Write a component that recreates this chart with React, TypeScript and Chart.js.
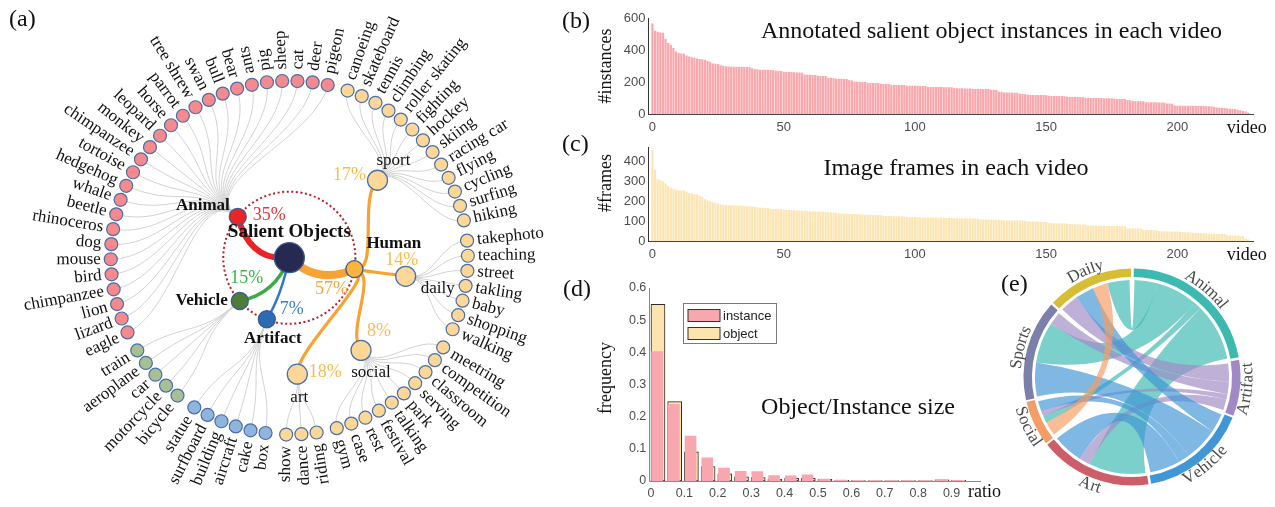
import React, { useEffect, useRef } from "react";
import { Chart, registerables } from "chart.js";
Chart.register(...registerables);

const SERIF = '"Liberation Serif", "Times New Roman", serif';
const SANS = '"Liberation Sans", Arial, sans-serif';
const DEG = Math.PI / 180;

// ---------------- (a) radial category tree ----------------
const topCategories = ["Animal", "Human", "Artifact", "Vehicle"];
const topShares = [35, 57, 7, 15];
const humanScenes = ["sport", "daily", "social", "art"];
const sceneShares = [17, 14, 8, 18];
const animalLeaves = ["eagle", "lizard", "lion", "chimpanzee", "bird", "mouse", "dog", "rhinoceros", "beetle", "whale", "hedgehog", "tortoise", "chimpanzee", "monkey", "leopard", "horse", "parrot", "tree shrew", "swan", "bull", "bear", "ants", "pig", "sheep", "cat", "deer", "pigeon"];
const sportLeaves = ["canoeing", "skateboard", "tennis", "climbing", "roller skating", "fighting", "hockey", "skiing", "racing car", "flying", "cycling", "surfing", "hiking"];
const dailyLeaves = ["takephoto", "teaching", "street", "takling", "baby", "shopping", "walking"];
const socialLeaves = ["meetring", "competition", "classroom", "serving", "park", "talking", "festival", "rest", "case", "gym"];
const artLeaves = ["riding", "dance", "show"];
const artifactLeaves = ["box", "cake", "aircraft", "building", "surfboard", "statue"];
const vehicleLeaves = ["bicycle", "motorcycle", "car", "aeroplane", "train"];
const leafGroups = [animalLeaves, sportLeaves, dailyLeaves, socialLeaves, artLeaves, artifactLeaves, vehicleLeaves];
const leafGroupOwners = ["Animal", "sport", "daily", "social", "art", "Artifact", "Vehicle"];

// ---------------- (b) instances per video ----------------
const videoTicks = [0, 50, 100, 150, 200];
const instanceTicks = [0, 200, 400, 600];
const instancesPerVideo = [
  565, 521, 514, 510, 508, 470, 443, 433, 412, 391,
  381, 378, 376, 366, 360, 355, 351, 347, 343, 342,
  339, 332, 326, 315, 314, 312, 305, 301, 299, 297,
  296, 296, 295, 295, 295, 294, 294, 293, 286, 282,
  280, 277, 277, 276, 276, 275, 275, 271, 270, 269,
  264, 263, 263, 262, 261, 259, 259, 258, 247, 246,
  245, 244, 244, 239, 238, 238, 237, 227, 226, 225,
  221, 220, 220, 219, 219, 213, 209, 202, 201, 201,
  200, 200, 195, 194, 194, 193, 193, 189, 188, 188,
  187, 183, 182, 182, 181, 181, 181, 177, 177, 176,
  176, 176, 175, 175, 175, 169, 169, 168, 168, 168,
  168, 167, 167, 167, 167, 162, 161, 161, 161, 160,
  160, 160, 158, 157, 157, 157, 156, 156, 156, 152,
  151, 150, 141, 139, 135, 134, 134, 134, 133, 133,
  126, 125, 124, 120, 119, 119, 119, 118, 118, 118,
  117, 114, 113, 113, 113, 112, 112, 111, 108, 107,
  107, 107, 106, 106, 105, 101, 101, 100, 100, 100,
  100, 100, 99, 99, 99, 99, 95, 94, 94, 93,
  93, 87, 86, 81, 80, 80, 79, 79, 74, 74,
  73, 73, 73, 72, 72, 71, 66, 65, 64, 53,
  52, 52, 52, 51, 51, 51, 50, 50, 50, 50,
  50, 49, 49, 49, 43, 41, 39, 38, 37, 34,
  33, 33, 32, 26, 24, 18, 16, 10,
];

// ---------------- (c) frames per video ----------------
const frameTicks = [0, 100, 200, 300, 400];
const framesPerVideo = [
  452, 357, 308, 304, 299, 289, 275, 266, 261, 258,
  254, 253, 252, 248, 239, 237, 234, 232, 226, 220,
  210, 204, 199, 194, 190, 187, 183, 181, 180, 179,
  178, 177, 177, 177, 176, 176, 175, 172, 172, 171,
  167, 166, 166, 165, 165, 161, 160, 160, 159, 159,
  156, 155, 155, 154, 154, 152, 152, 151, 151, 150,
  148, 147, 147, 147, 146, 146, 145, 143, 142, 142,
  141, 137, 136, 136, 136, 135, 135, 135, 134, 134,
  133, 131, 131, 131, 130, 130, 130, 129, 126, 125,
  125, 125, 124, 124, 124, 124, 123, 120, 119, 119,
  119, 119, 118, 118, 118, 117, 117, 117, 116, 116,
  116, 116, 115, 115, 115, 114, 114, 114, 113, 113,
  113, 112, 112, 112, 111, 108, 107, 107, 107, 106,
  106, 106, 105, 105, 104, 103, 103, 103, 102, 102,
  102, 102, 101, 97, 97, 96, 96, 96, 96, 95,
  95, 90, 89, 89, 89, 88, 88, 88, 87, 85,
  84, 84, 84, 83, 83, 83, 77, 77, 77, 76,
  76, 76, 76, 76, 75, 75, 75, 75, 74, 74,
  74, 64, 63, 63, 63, 62, 62, 56, 55, 55,
  55, 54, 54, 50, 49, 49, 49, 48, 48, 48,
  48, 45, 44, 44, 44, 43, 41, 40, 40, 40,
  39, 39, 36, 36, 36, 35, 35, 35, 35, 29,
  28, 28, 28, 27, 25, 24, 13, 8,
];

// ---------------- (d) size histogram ----------------
const sizeBins = [0, 0.05, 0.1, 0.15, 0.2, 0.25, 0.3, 0.35, 0.4, 0.45, 0.5, 0.55, 0.6, 0.65, 0.7, 0.75, 0.8, 0.85, 0.9];
const instanceFreq = [0.402, 0.238, 0.14, 0.072, 0.04, 0.03, 0.029, 0.017, 0.016, 0.019, 0.006, 0.003, 0.0015, 0.001, 0.001, 0.001, 0.001, 0.004, 0.002];
const objectFreq = [0.549, 0.247, 0.091, 0.045, 0.022, 0.013, 0.011, 0.005, 0.008, 0.008, 0.005, 0.002, 0.001, 0.001, 0.001, 0.001, 0.001, 0.004, 0.002];
const ratioTicks = [0, 0.1, 0.2, 0.3, 0.4, 0.5, 0.6, 0.7, 0.8, 0.9];
const freqTicks = [0, 0.1, 0.2, 0.3, 0.4, 0.5, 0.6];

// ---------------- (e) chord diagram ----------------
const chordGroups = ["Animal", "Artifact", "Vehicle", "Art", "Social", "Sports", "Daily"];
const linkFrom = ["Animal", "Animal", "Animal", "Animal", "Artifact", "Artifact", "Artifact", "Artifact", "Vehicle", "Vehicle", "Vehicle", "Vehicle", "Social"];
const linkTo = ["Art", "Sports", "Daily", "Social", "Daily", "Sports", "Art", "Social", "Art", "Sports", "Social", "Daily", "Daily"];
const linkValue = [30, 22, 12, 4, 10, 7, 6, 3, 16, 18, 6, 10, 8];

// ---------------- styles ----------------
const LEAF_STEP = 4.9;
const GROUP_GAP = 6.63;
const START_ANGLE = 155;
const R_TOP = 0.37;
const R_MID = 0.66;
const R_LEAF = 1;
const FLIP_FROM = 79;
const FLIP_TO = 256;
const leafFill: any = { Animal: "#f48a8e", Human: "#fcd797", Artifact: "#8fb4de", Vehicle: "#a6bf94" };
const topStyle: any = {
  Animal: { fill: "#e8262a", link: "#ec2227", width: 6, bend: -45, pctColor: "#e8353a", name: [-8, -11, "right"], pct: [15, -2, "left"] },
  Human: { fill: "#fbb43c", link: "#f7a234", width: 8, bend: 35, pctColor: "#f7a540", name: [12, -25, "left"], pct: [-23, 20, "center"] },
  Artifact: { fill: "#2a6db5", link: "#2f78c4", width: 2.5, bend: -8, pctColor: "#3d7fc6", name: [6, 19, "center"], pct: [25, -10, "center"] },
  Vehicle: { fill: "#4f7c39", link: "#3daa48", width: 3.5, bend: -28, pctColor: "#3cb34a", name: [-12, 0, "right"], pct: [7, -23, "center"] },
};
const sceneStyle: any = {
  sport: { name: [16, -20], pct: [-28, -5] },
  daily: { name: [32, 12], pct: [-4, -16] },
  social: { name: [10, 22], pct: [18, -19] },
  art: { name: [2, 23], pct: [28, -2] },
};
const chordColors = ["#3cbab2", "#a08ac6", "#4197d6", "#cd5d68", "#f49e65", "#7b7fa9", "#d5bd34"];
const chordOrder: any = {
  Animal: ["Daily", "Sports", "Social", "Art"],
  Artifact: ["Daily", "Sports", "Social", "Art"],
  Vehicle: ["Daily", "Sports", "Social", "Art"],
  Art: ["Animal", "Artifact", "Vehicle"],
  Social: ["Daily", "Animal", "Artifact", "Vehicle"],
  Sports: ["Vehicle", "Animal", "Artifact"],
  Daily: ["Artifact", "Vehicle", "Social", "Animal"],
};

function rgba(hex: string, a: number) {
  const n = parseInt(hex.slice(1), 16);
  return `rgba(${(n >> 16) & 255},${(n >> 8) & 255},${n & 255},${a})`;
}

function textPlugin(id: string, items: any[]) {
  return {
    id,
    afterDraw(chart: any) {
      const ctx = chart.ctx;
      items.forEach((it) => {
        ctx.save();
        ctx.font = it.font;
        ctx.fillStyle = it.color || "#111";
        ctx.textAlign = it.align || "center";
        ctx.textBaseline = it.baseline || "middle";
        ctx.translate(it.x, it.y);
        if (it.rot) ctx.rotate(it.rot);
        ctx.fillText(it.text, 0, 0);
        ctx.restore();
      });
    },
  };
}

// ---------------- (a) config ----------------
function treeConfig() {
  const CX = 289, CY = 258, RPX = 189, W = 590, H = 507;
  const leaves: any[] = [];
  const range: any = {};
  let a = START_ANGLE;
  leafGroups.forEach((names, gi) => {
    const owner = leafGroupOwners[gi];
    const first = a;
    names.forEach((name) => {
      leaves.push({ name, angle: a, owner });
      a += LEAF_STEP;
    });
    range[owner] = [first, a - LEAF_STEP];
    a += GROUP_GAP - LEAF_STEP;
  });
  const ang: any = {};
  Object.keys(range).forEach((k) => (ang[k] = (range[k][0] + range[k][1]) / 2));
  ang.Human = (range[humanScenes[0]][0] + range[humanScenes[humanScenes.length - 1]][1]) / 2;
  const rad: any = {};
  topCategories.forEach((c) => (rad[c] = R_TOP));
  humanScenes.forEach((s) => (rad[s] = R_MID));
  const topOf = (owner: string) => (humanScenes.includes(owner) ? "Human" : owner);
  const pol = (deg: number, r: number) => ({ x: r * Math.cos(deg * DEG), y: -r * Math.sin(deg * DEG) });

  const plugin = {
    id: "radialTree",
    beforeDatasetsDraw(chart: any) {
      const ctx = chart.ctx;
      const sx = chart.scales.x, sy = chart.scales.y;
      const px = (deg: number, r: number) => {
        const p = pol(deg, r);
        return [sx.getPixelForValue(p.x), sy.getPixelForValue(p.y)];
      };
      const unit = sx.getPixelForValue(1) - sx.getPixelForValue(0);
      const [ox, oy] = px(0, 0);
      const radialLink = (a0: number, r0: number, a1: number, r1: number) => {
        const rm = (r0 + r1) / 2;
        const p0 = px(a0, r0), c1 = px(a0, rm), c2 = px(a1, rm), p1 = px(a1, r1);
        ctx.beginPath();
        ctx.moveTo(p0[0], p0[1]);
        ctx.bezierCurveTo(c1[0], c1[1], c2[0], c2[1], p1[0], p1[1]);
        ctx.stroke();
      };
      ctx.save();
      ctx.strokeStyle = "#d2d2d2";
      ctx.lineWidth = 1;
      leaves.forEach((l) => radialLink(ang[l.owner], rad[l.owner], l.angle, R_LEAF));
      ctx.setLineDash([2, 2.6]);
      ctx.strokeStyle = "#b41e2d";
      ctx.lineWidth = 2;
      ctx.beginPath();
      ctx.arc(ox, oy, R_TOP * unit, 0, Math.PI * 2);
      ctx.stroke();
      ctx.setLineDash([]);
      ctx.lineCap = "round";
      ctx.strokeStyle = "#f7a234";
      ctx.lineWidth = 3.2;
      humanScenes.forEach((s) => radialLink(ang.Human, rad.Human, ang[s], rad[s]));
      topCategories.forEach((c) => {
        const st = topStyle[c];
        const ctrl = px(ang[c] + st.bend, rad[c] * 0.6);
        const end = px(ang[c], rad[c]);
        ctx.strokeStyle = st.link;
        ctx.lineWidth = st.width;
        ctx.beginPath();
        ctx.moveTo(ox, oy);
        ctx.quadraticCurveTo(ctrl[0], ctrl[1], end[0], end[1]);
        ctx.stroke();
      });
      ctx.restore();
    },
    afterDatasetsDraw(chart: any) {
      const ctx = chart.ctx;
      const sx = chart.scales.x, sy = chart.scales.y;
      const px = (deg: number, r: number) => {
        const p = pol(deg, r);
        return [sx.getPixelForValue(p.x), sy.getPixelForValue(p.y)];
      };
      const unit = sx.getPixelForValue(1) - sx.getPixelForValue(0);
      const [ox, oy] = px(0, 0);
      ctx.save();
      ctx.textBaseline = "middle";
      ctx.font = `17px ${SERIF}`;
      ctx.fillStyle = "#111";
      leaves.forEach((l) => {
        const norm = ((l.angle % 360) + 360) % 360;
        const flip = norm >= FLIP_FROM && norm < FLIP_TO;
        const off = R_LEAF * unit + 10;
        ctx.save();
        ctx.translate(ox, oy);
        ctx.rotate(l.angle * DEG);
        if (flip) {
          ctx.rotate(Math.PI);
          ctx.textAlign = "right";
          ctx.fillText(l.name, -off, 0);
        } else {
          ctx.textAlign = "left";
          ctx.fillText(l.name, off, 0);
        }
        ctx.restore();
      });
      const put = (text: string, x: number, y: number, font: string, color: string, align: string) => {
        ctx.font = font;
        ctx.fillStyle = color;
        ctx.textAlign = align;
        ctx.fillText(text, x, y);
      };
      topCategories.forEach((c, i) => {
        const st = topStyle[c];
        const [nx, ny] = px(ang[c], rad[c]);
        put(c, nx + st.name[0], ny + st.name[1], `bold 17px ${SERIF}`, "#111", st.name[2]);
        put(`${topShares[i]}%`, nx + st.pct[0], ny + st.pct[1], `18px ${SERIF}`, st.pctColor, st.pct[2]);
      });
      humanScenes.forEach((s, i) => {
        const st = sceneStyle[s];
        const [nx, ny] = px(ang[s], rad[s]);
        put(s, nx + st.name[0], ny + st.name[1], `17px ${SERIF}`, "#111", "center");
        put(`${sceneShares[i]}%`, nx + st.pct[0], ny + st.pct[1], `18px ${SERIF}`, "#fbbb4c", "center");
      });
      put("Salient Objects", ox, oy - 26, `bold 19px ${SERIF}`, "#111", "center");
      ctx.restore();
    },
  };

  return {
    type: "scatter",
    data: {
      datasets: [
        { data: [{ x: 0, y: 0 }], pointRadius: 15, pointBackgroundColor: "#262a50", pointBorderColor: "#3b5b92", pointBorderWidth: 1.3, clip: false },
        {
          data: topCategories.map((c) => pol(ang[c], rad[c])),
          pointRadius: 8.5,
          pointBackgroundColor: topCategories.map((c) => topStyle[c].fill),
          pointBorderColor: "#3b5b92",
          pointBorderWidth: 1.3,
          clip: false,
        },
        {
          data: humanScenes.map((s) => pol(ang[s], rad[s])),
          pointRadius: 10,
          pointBackgroundColor: "#fcd797",
          pointBorderColor: "#4a6ea8",
          pointBorderWidth: 1.3,
          clip: false,
        },
        {
          data: leaves.map((l) => pol(l.angle, R_LEAF)),
          pointRadius: 6.5,
          pointBackgroundColor: leaves.map((l) => leafFill[topOf(l.owner)]),
          pointBorderColor: "#4a6ea8",
          pointBorderWidth: 1.2,
          clip: false,
        },
      ],
    },
    options: {
      responsive: false,
      animation: false,
      events: [],
      layout: { padding: 0 },
      plugins: { legend: { display: false }, tooltip: { enabled: false } },
      scales: {
        x: { type: "linear", display: false, min: -CX / RPX, max: (W - CX) / RPX },
        y: { type: "linear", display: false, min: -(H - CY) / RPX, max: CY / RPX },
      },
    },
    plugins: [plugin],
  };
}

// ---------------- (b)/(c) config ----------------
function videoBarConfig(values: number[], color: string, yMax: number, yTicks: number[], padTop: number, xHeight: number, texts: any[], id: string) {
  return {
    type: "bar",
    data: {
      datasets: [
        {
          data: values.map((v, i) => ({ x: i, y: v })),
          backgroundColor: color,
          borderWidth: 0,
          barPercentage: 0.86,
          categoryPercentage: 1,
        },
      ],
    },
    options: {
      responsive: false,
      animation: false,
      events: [],
      layout: { padding: { top: padTop, right: 21.5, left: 0, bottom: 0 } },
      plugins: { legend: { display: false }, tooltip: { enabled: false } },
      scales: {
        x: {
          type: "linear",
          min: -1.5,
          max: 229,
          offset: false,
          grid: { display: false, drawTicks: false },
          border: { display: true, color: "#444", width: 1 },
          ticks: { font: { family: SANS, size: 13 }, color: "#4d4d4d", padding: 6, maxRotation: 0 },
          afterBuildTicks: (s: any) => {
            s.ticks = videoTicks.map((v) => ({ value: v }));
          },
          afterFit: (s: any) => {
            s.height = xHeight;
          },
        },
        y: {
          type: "linear",
          min: 0,
          max: yMax,
          grid: { display: false, drawTicks: false },
          border: { display: true, color: "#333", width: 1 },
          ticks: { font: { family: SANS, size: 13 }, color: "#4d4d4d", padding: 3 },
          afterBuildTicks: (s: any) => {
            s.ticks = yTicks.map((v) => ({ value: v }));
          },
          afterFit: (s: any) => {
            s.width = 58.5;
          },
        },
      },
    },
    plugins: [textPlugin(id, texts)],
  };
}

// ---------------- (d) config ----------------
function histConfig() {
  const legendPlugin = {
    id: "histLegend",
    afterDraw(chart: any) {
      const ctx = chart.ctx;
      ctx.save();
      ctx.fillStyle = "#fff";
      ctx.strokeStyle = "#7a7a7a";
      ctx.lineWidth = 1;
      ctx.fillRect(93.5, 33.5, 93, 40);
      ctx.strokeRect(93.5, 33.5, 93, 40);
      const entries = [
        { label: "instance", color: "#f7a7ad", y: 39.5 },
        { label: "object", color: "#fce4af", y: 57.5 },
      ];
      entries.forEach((e) => {
        ctx.fillStyle = e.color;
        ctx.fillRect(98, e.y, 32, 12);
        ctx.strokeStyle = "#333";
        ctx.strokeRect(98, e.y, 32, 12);
        ctx.fillStyle = "#222";
        ctx.font = `13px ${SANS}`;
        ctx.textAlign = "left";
        ctx.textBaseline = "middle";
        ctx.fillText(e.label, 133, e.y + 6.5);
      });
      ctx.restore();
    },
  };
  return {
    type: "bar",
    data: {
      datasets: [
        {
          label: "instance",
          data: sizeBins.map((b, i) => ({ x: b + 0.0185, y: instanceFreq[i] })),
          backgroundColor: "#f7a7ad",
          borderWidth: 0,
          barThickness: 11,
          grouped: false,
        },
        {
          label: "object",
          data: sizeBins.map((b, i) => ({ x: b + 0.021, y: objectFreq[i] })),
          backgroundColor: "#fce4af",
          borderColor: "#2b2b2b",
          borderWidth: 1,
          borderSkipped: false,
          barThickness: 14,
          grouped: false,
        },
      ],
    },
    options: {
      responsive: false,
      animation: false,
      events: [],
      layout: { padding: { top: 18, right: 30, left: 0, bottom: 0 } },
      plugins: { legend: { display: false }, tooltip: { enabled: false } },
      scales: {
        x: {
          type: "linear",
          min: -0.005,
          max: 0.985,
          offset: false,
          grid: { display: false, drawTicks: false },
          border: { display: true, color: "#8a8a8a", width: 1 },
          ticks: { font: { family: SANS, size: 12.5 }, color: "#4d4d4d", padding: 5, maxRotation: 0, autoSkip: false },
          afterBuildTicks: (s: any) => {
            s.ticks = ratioTicks.map((v) => ({ value: v }));
          },
          afterFit: (s: any) => {
            s.height = 26;
          },
        },
        y: {
          type: "linear",
          min: 0,
          max: 0.6,
          grid: { display: false, drawTicks: false },
          border: { display: true, color: "#8a8a8a", width: 1 },
          ticks: { font: { family: SANS, size: 12.5 }, color: "#4d4d4d", padding: 3 },
          afterBuildTicks: (s: any) => {
            s.ticks = freqTicks.map((v) => ({ value: v }));
          },
          afterFit: (s: any) => {
            s.width = 59.3;
          },
        },
      },
    },
    plugins: [
      textPlugin("histText", [
        { text: "Object/Instance size", x: 268, y: 144, font: `24px ${SERIF}`, baseline: "alphabetic" },
        { text: "frequency", x: 16, y: 108, font: `18px ${SERIF}`, rot: -Math.PI / 2 },
        { text: "ratio", x: 378, y: 222.5, font: `18px ${SERIF}`, align: "left" },
      ]),
      legendPlugin,
    ],
  };
}

// ---------------- (e) config ----------------
function chordConfig() {
  const totals = chordGroups.map((g) => linkFrom.reduce((s, f, i) => s + (f === g || linkTo[i] === g ? linkValue[i] : 0), 0));
  const between = (g: string, p: string) => {
    for (let i = 0; i < linkFrom.length; i++) {
      if ((linkFrom[i] === g && linkTo[i] === p) || (linkFrom[i] === p && linkTo[i] === g)) return linkValue[i];
    }
    return 0;
  };
  const SPACING = 5;
  const plugin = {
    id: "chord",
    beforeDatasetsDraw(chart: any) {
      const ctx = chart.ctx;
      const arcs = chart.getDatasetMeta(0).data;
      const cx = arcs[0].x, cy = arcs[0].y;
      const inner = arcs[0].innerRadius;
      const inset = SPACING / 2 / inner;
      const sub: any = {};
      chordGroups.forEach((g, i) => {
        const s = arcs[i].startAngle + inset;
        const e = arcs[i].endAngle - inset;
        const k = (e - s) / totals[i];
        let c = s;
        sub[g] = {};
        chordOrder[g].forEach((p: string) => {
          const v = between(g, p);
          if (!v) return;
          sub[g][p] = [c, c + v * k];
          c += v * k;
        });
      });
      const r = inner - 0.5;
      ctx.save();
      linkFrom.forEach((f, li) => {
        const t = linkTo[li];
        const [a0, a1] = sub[f][t];
        const [b0, b1] = sub[t][f];
        ctx.beginPath();
        ctx.moveTo(cx + r * Math.cos(a0), cy + r * Math.sin(a0));
        ctx.arc(cx, cy, r, a0, a1);
        ctx.quadraticCurveTo(cx, cy, cx + r * Math.cos(b0), cy + r * Math.sin(b0));
        ctx.arc(cx, cy, r, b0, b1);
        ctx.quadraticCurveTo(cx, cy, cx + r * Math.cos(a0), cy + r * Math.sin(a0));
        ctx.closePath();
        ctx.fillStyle = rgba(chordColors[chordGroups.indexOf(f)], 0.68);
        ctx.fill();
      });
      ctx.restore();
    },
    afterDatasetsDraw(chart: any) {
      const ctx = chart.ctx;
      const arcs = chart.getDatasetMeta(0).data;
      const cx = arcs[0].x, cy = arcs[0].y;
      const rl = arcs[0].outerRadius + 10;
      ctx.save();
      ctx.font = `17px ${SERIF}`;
      ctx.fillStyle = "#4a4a4a";
      ctx.textAlign = "center";
      ctx.textBaseline = "middle";
      chordGroups.forEach((g, i) => {
        const m = (arcs[i].startAngle + arcs[i].endAngle) / 2;
        const bottom = Math.sin(m) > 0;
        const span = ctx.measureText(g).width / rl;
        let a = bottom ? m + span / 2 : m - span / 2;
        for (const ch of g) {
          const cw = ctx.measureText(ch).width / rl;
          const ac = bottom ? a - cw / 2 : a + cw / 2;
          ctx.save();
          ctx.translate(cx + rl * Math.cos(ac), cy + rl * Math.sin(ac));
          ctx.rotate(bottom ? ac - Math.PI / 2 : ac + Math.PI / 2);
          ctx.fillText(ch, 0, 0);
          ctx.restore();
          a = bottom ? a - cw : a + cw;
        }
      });
      ctx.restore();
    },
  };
  return {
    type: "doughnut",
    data: {
      labels: chordGroups,
      datasets: [{ data: totals, backgroundColor: chordColors, borderWidth: 0, spacing: SPACING }],
    },
    options: {
      responsive: false,
      animation: false,
      events: [],
      cutout: "92%",
      rotation: 0,
      spacing: SPACING,
      layout: { padding: { left: 23.5, right: 34.5, top: 6.5, bottom: 21.5 } },
      plugins: { legend: { display: false }, tooltip: { enabled: false } },
    },
    plugins: [plugin],
  };
}

const panelLetter = (text: string, left: number, top: number) => (
  <div
    style={{ position: "absolute", left, top, fontFamily: SERIF, fontSize: 24, lineHeight: "24px", color: "#111", whiteSpace: "nowrap" }}
  >
    {text}
  </div>
);

export default function App() {
  const aRef = useRef<HTMLCanvasElement>(null);
  const bRef = useRef<HTMLCanvasElement>(null);
  const cRef = useRef<HTMLCanvasElement>(null);
  const dRef = useRef<HTMLCanvasElement>(null);
  const eRef = useRef<HTMLCanvasElement>(null);

  useEffect(() => {
    document.body.style.margin = "0";
    const charts = [
      new Chart(aRef.current as any, treeConfig() as any),
      new Chart(
        bRef.current as any,
        videoBarConfig(instancesPerVideo, "#f9a8ad", 600, instanceTicks, 18, 23, [
          { text: "Annotated salient object instances in each video", x: 401.5, y: 38, font: `24px ${SERIF}`, baseline: "alphabetic" },
          { text: "#instances", x: 16.7, y: 66, font: `18px ${SERIF}`, rot: -Math.PI / 2 },
          { text: "video", x: 636.7, y: 128, font: `18px ${SERIF}`, align: "left" },
        ], "bText") as any
      ),
      new Chart(
        cRef.current as any,
        videoBarConfig(framesPerVideo, "#fce5b4", 466, frameTicks, 5.7, 24, [
          { text: "Image frames in each video", x: 366, y: 38, font: `24px ${SERIF}`, baseline: "alphabetic" },
          { text: "#frames", x: 16.7, y: 46, font: `18px ${SERIF}`, rot: -Math.PI / 2 },
          { text: "video", x: 636.7, y: 118, font: `18px ${SERIF}`, align: "left" },
        ], "cText") as any
      ),
      new Chart(dRef.current as any, histConfig() as any),
      new Chart(eRef.current as any, chordConfig() as any),
    ];
    return () => charts.forEach((c) => c.destroy());
  }, []);

  return (
    <div style={{ position: "absolute", left: 0, top: 0, width: 1275, height: 507, background: "#fff", overflow: "hidden" }}>
      <canvas ref={aRef} width={590} height={507} style={{ position: "absolute", left: 0, top: 0 }} />
      <canvas ref={bRef} width={685} height={137} style={{ position: "absolute", left: 590, top: 0 }} />
      <canvas ref={cRef} width={685} height={128} style={{ position: "absolute", left: 590, top: 137 }} />
      <canvas ref={dRef} width={420} height={237} style={{ position: "absolute", left: 590, top: 270 }} />
      <canvas ref={eRef} width={275} height={245} style={{ position: "absolute", left: 1000, top: 262 }} />
      {panelLetter("(a)", 9, 6)}
      {panelLetter("(b)", 562, 8)}
      {panelLetter("(c)", 562, 131)}
      {panelLetter("(d)", 563, 276)}
      {panelLetter("(e)", 1001, 271)}
    </div>
  );
}
